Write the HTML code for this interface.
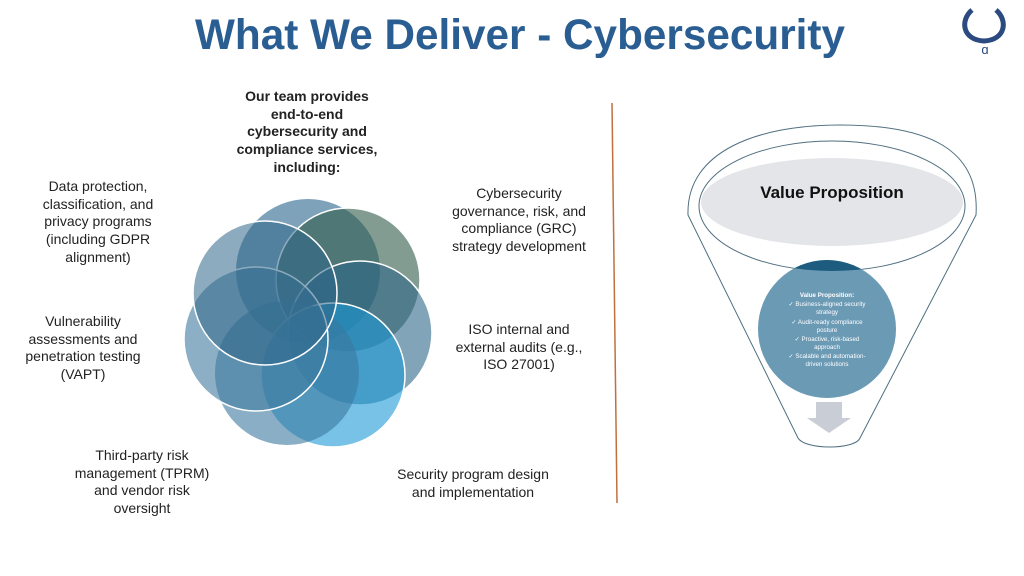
<!DOCTYPE html>
<html><head><meta charset="utf-8"><style>
body{margin:0;width:1024px;height:576px;background:#fff;position:relative;overflow:hidden;font-family:"Liberation Sans",sans-serif}
.t{position:absolute;text-align:center;font-size:14px;line-height:17.7px;color:#222;transform:translateX(-50%);white-space:nowrap}
svg{position:absolute;left:0;top:0}
</style></head><body>
<svg width="1024" height="576">
<text x="520" y="49" text-anchor="middle" font-family="Liberation Sans" font-weight="bold" font-size="43" fill="#2a5e93" textLength="650" lengthAdjust="spacingAndGlyphs">What We Deliver - Cybersecurity</text>
<!-- logo -->
<path d="M972 10 C960 20 962 40 984 41 C1006 40 1008 20 996 10" fill="none" stroke="#2b4a80" stroke-width="5"/>
<text x="985" y="54" font-size="13" fill="#2b4a80" text-anchor="middle" font-family="Liberation Sans">ɑ</text>
<!-- divider -->
<line x1="612" y1="103" x2="617" y2="503" stroke="#c0703c" stroke-width="1.5"/>
<!-- flower -->
<g stroke="#fff" stroke-width="1.5">
<circle cx="308" cy="271" r="72" fill="#6f98b3" fill-opacity="0.9" stroke="none"/>
<circle cx="348" cy="280" r="72" fill="#2f5a47" fill-opacity="0.6"/>
<circle cx="360" cy="333" r="72" fill="#2f6788" fill-opacity="0.6"/>
<circle cx="333" cy="375" r="72" fill="#1c9ad6" fill-opacity="0.6"/>
<circle cx="287" cy="373" r="72" fill="#3a78a0" fill-opacity="0.6" stroke="none"/>
<circle cx="256" cy="339" r="72" fill="#3f7a9f" fill-opacity="0.6"/>
<circle cx="265" cy="293" r="72" fill="#2f6688" fill-opacity="0.55"/>
</g>
<!-- funnel -->
<g fill="none" stroke="#4f6f80" stroke-width="1">
<path d="M688 215 C686 150 760 125 840 125 C930 125 980 150 976 215 L860 438 C855 450 805 450 798 438 Z" fill="#fff"/>
<ellipse cx="832" cy="206" rx="133" ry="65"/>
</g>
<ellipse cx="832" cy="202" rx="131" ry="44" fill="#e3e5e8"/>
<text x="832" y="198" text-anchor="middle" font-weight="bold" font-size="17" fill="#111" font-family="Liberation Sans">Value Proposition</text>
<clipPath id="c"><ellipse cx="832" cy="206" rx="133" ry="65"/></clipPath>
<circle cx="827" cy="329" r="69" fill="#6b9ab5"/>
<circle cx="827" cy="329" r="69" fill="#1d5c7e" clip-path="url(#c)"/>
<g font-size="6.2" fill="#fff" text-anchor="middle" font-family="Liberation Sans">
<text x="827" y="297" font-weight="bold">Value Proposition:</text>
<text x="827" y="306">✓ Business-aligned  security</text>
<text x="827" y="314">strategy</text>
<text x="827" y="324">✓ Audit-ready compliance</text>
<text x="827" y="332">posture</text>
<text x="827" y="341">✓ Proactive, risk-based</text>
<text x="827" y="349">approach</text>
<text x="827" y="358">✓ Scalable and automation-</text>
<text x="827" y="366">driven solutions</text>
</g>
<path d="M816 402 H842 V418 H851 L829 433 L807 418 H816 Z" fill="#c9ced6"/>
</svg>
<div class="t" style="left:307px;top:88px;font-weight:bold">Our team provides<br>end-to-end<br>cybersecurity and<br>compliance services,<br>including:</div>
<div class="t" style="left:98px;top:178px">Data protection,<br>classification, and<br>privacy programs<br>(including GDPR<br>alignment)</div>
<div class="t" style="left:83px;top:313px">Vulnerability<br>assessments and<br>penetration testing<br>(VAPT)</div>
<div class="t" style="left:142px;top:447px">Third-party risk<br>management (TPRM)<br>and vendor risk<br>oversight</div>
<div class="t" style="left:519px;top:185px">Cybersecurity<br>governance, risk, and<br>compliance (GRC)<br>strategy development</div>
<div class="t" style="left:519px;top:321px">ISO internal and<br>external audits (e.g.,<br>ISO 27001)</div>
<div class="t" style="left:473px;top:466px">Security program design<br>and implementation</div>
</body></html>
